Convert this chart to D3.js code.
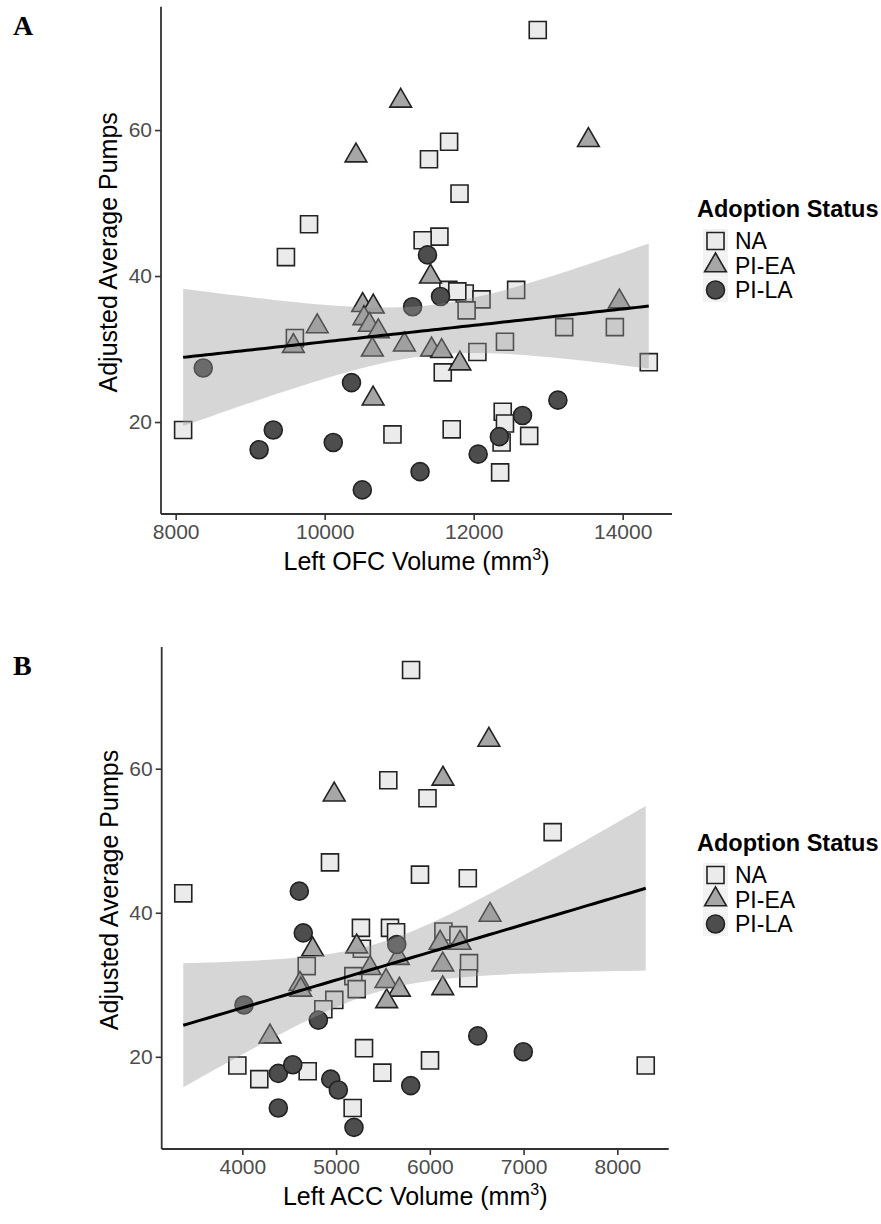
<!DOCTYPE html>
<html>
<head>
<meta charset="utf-8">
<script src="https://cdn.jsdelivr.net/npm/d3@7"></script>
<style>
  body { margin: 0; background: #fff; }
  text { font-family: "Liberation Sans", Arial, sans-serif; }
</style>
</head>
<body>
<div id="chart"></div>
<script>
// groups and their legend labels
const groups = ["NA", "PI-EA", "PI-LA"];

// Panel A: Left OFC volume vs adjusted average pumps
const ofcNA = [
	[12860, 73.7], [11670, 58.4], [11400, 56.0], [11810, 51.3], [9790, 47.1],
	[11540, 45.4], [11315, 44.9], [9480, 42.6], [11660, 38.1], [11880, 37.6],
	[11780, 37.9], [12105, 36.8], [11905, 35.3], [12570, 38.1], [13215, 33.0],
	[13895, 33.0], [14350, 28.2], [12420, 31.0], [12050, 29.6], [11585, 26.8],
	[9600, 31.5], [8100, 18.9], [10910, 18.3], [11705, 19.0], [12390, 21.4],
	[12420, 19.8], [12375, 17.2], [12745, 18.1], [12355, 13.1]
];
const ofcEA = [
	[11020, 64.0], [10420, 56.5], [13540, 58.6], [11420, 39.9], [13955, 36.5],
	[9580, 30.4], [9900, 33.1], [10510, 36.0], [10652, 35.8], [10527, 34.2],
	[10600, 33.3], [10720, 32.4], [10640, 29.9], [11070, 30.6], [10650, 23.2],
	[11435, 29.9], [11570, 29.7], [11815, 28.0]
];
const ofcLA = [
	[11380, 42.9], [11180, 35.8], [11555, 37.2], [8370, 27.4], [10360, 25.4],
	[9310, 18.9], [9120, 16.2], [10115, 17.2], [10505, 10.7], [11280, 13.2],
	[13130, 23.0], [12655, 20.9], [12345, 18.0], [12060, 15.6]
];

// Panel B: Left ACC volume vs adjusted average pumps
const accNA = [
	[5800, 73.7], [5557, 58.4], [4935, 47.0], [3370, 42.7], [5975, 55.9],
	[7310, 51.2], [5895, 45.3], [6405, 44.8], [5265, 37.9], [5575, 37.9],
	[5640, 37.3], [5275, 35.0], [4687, 32.6], [5184, 31.2], [5220, 29.4],
	[4981, 27.9], [4864, 26.6], [5298, 21.2], [3947, 18.8], [4181, 16.9],
	[4697, 18.0], [5493, 17.8], [5177, 12.9], [6145, 37.4], [6305, 36.9],
	[6418, 33.0], [6411, 30.9], [6002, 19.5], [8303, 18.8]
];
const accEA = [
	[4980, 56.4], [6630, 64.0], [6140, 58.6], [4750, 34.9], [5220, 35.3],
	[5362, 32.3], [5664, 33.7], [4615, 30.1], [4623, 29.3], [5533, 30.5],
	[5675, 29.3], [5540, 27.7], [4295, 22.8], [6642, 39.7], [6110, 35.8],
	[6322, 35.8], [6138, 32.8], [6138, 29.5]
];
const accLA = [
	[4608, 43.0], [4650, 37.2], [5647, 35.6], [4811, 25.1], [4018, 27.2],
	[4384, 17.7], [4538, 18.9], [4943, 16.9], [5024, 15.4], [5796, 16.0],
	[4384, 12.9], [5191, 10.2], [6511, 22.9], [6997, 20.7]
];

// tick labels
const ofcTicks = [8000, 10000, 12000, 14000];
const accTicks = [4000, 5000, 6000, 7000, 8000];
const pumpTicks = [20, 40, 60];

const W = 881, H = 1224;
const svg = d3.select("#chart").append("svg")
	.attr("width", W).attr("height", H);

const shapeOf = { "NA": d3.symbolSquare, "PI-EA": d3.symbolTriangle, "PI-LA": d3.symbolCircle };
const sizeOf = { "NA": 290, "PI-EA": 205, "PI-LA": 255 };
const fillOf = { "NA": "#ebebeb", "PI-EA": "#a6a6a6", "PI-LA": "#4d4d4d" };

// linear fit with 95% band (like geom_smooth(method = "lm"))
function lmBand(pts) {
	const n = pts.length;
	const mx = d3.mean(pts, d => d[0]), my = d3.mean(pts, d => d[1]);
	let sxx = 0, sxy = 0;
	pts.forEach(d => { sxx += (d[0] - mx) ** 2; sxy += (d[0] - mx) * (d[1] - my); });
	const b = sxy / sxx, a = my - b * mx;
	const rss = d3.sum(pts, d => (d[1] - a - b * d[0]) ** 2);
	const s = Math.sqrt(rss / (n - 2));
	const t = 2.0;
	const [x0, x1] = d3.extent(pts, d => d[0]);
	return d3.range(0, 81).map(i => {
		const x = x0 + (x1 - x0) * i / 80;
		const fit = a + b * x;
		const se = s * Math.sqrt(1 / n + (x - mx) ** 2 / sxx);
		return { x: x, fit: fit, lo: fit - t * se, hi: fit + t * se };
	});
}

function drawPanel(cfg) {
	const g = svg.append("g");
	const x = d3.scaleLinear().domain(cfg.xDomain).range([cfg.left, cfg.right]);
	const y = d3.scaleLinear().domain(cfg.yDomain).range([cfg.bottom, cfg.top]);

	const all = [];
	groups.forEach((grp, i) => cfg.series[i].forEach(d => all.push({ grp: grp, x: d[0], y: d[1] })));

	// points
	g.selectAll("path.pt").data(all).enter().append("path")
		.attr("class", "pt")
		.attr("transform", d => `translate(${x(d.x)},${y(d.y)})`)
		.attr("d", d => d3.symbol().type(shapeOf[d.grp]).size(sizeOf[d.grp])())
		.attr("fill", d => fillOf[d.grp])
		.attr("stroke", "#222")
		.attr("stroke-width", 1.6);

	// smooth: ribbon on top of the points, then the line
	const band = lmBand(all.map(d => [d.x, d.y]));
	g.append("path").datum(band)
		.attr("fill", "#999999").attr("fill-opacity", 0.4)
		.attr("d", d3.area().x(d => x(d.x)).y0(d => y(d.lo)).y1(d => y(d.hi)));
	g.append("path").datum(band)
		.attr("fill", "none").attr("stroke", "#000").attr("stroke-width", 3)
		.attr("d", d3.line().x(d => x(d.x)).y(d => y(d.fit)));

	// axes
	const xa = g.append("g").attr("transform", `translate(0,${cfg.bottom})`)
		.call(d3.axisBottom(x).tickValues(cfg.xTicks).tickSize(6).tickPadding(4).tickFormat(d3.format("d")));
	const ya = g.append("g").attr("transform", `translate(${cfg.left},0)`)
		.call(d3.axisLeft(y).tickValues(pumpTicks).tickSize(6).tickPadding(3));
	[xa, ya].forEach(a => {
		a.select(".domain").attr("stroke", "#333").attr("stroke-width", 1.8);
		a.selectAll(".tick line").attr("stroke", "#333").attr("stroke-width", 1.6);
		a.selectAll(".tick text").attr("fill", "#4d4d4d").style("font-size", "21px")
			.style("font-family", "'Liberation Sans', Arial, sans-serif");
	});
	// d3 domain path spans only the range; extend to corners
	xa.select(".domain").attr("d", `M${cfg.left},0H${cfg.right}`);
	ya.select(".domain").attr("d", `M0,${cfg.top}V${cfg.bottom}`);

	// axis titles
	const xt = g.append("text")
		.attr("x", (cfg.left + cfg.right) / 2).attr("y", cfg.bottom + 56)
		.attr("text-anchor", "middle").style("font-size", "25px").attr("fill", "#000");
	xt.append("tspan").text(cfg.xTitle + " (mm");
	xt.append("tspan").attr("dy", -10).style("font-size", "16px").text("3");
	xt.append("tspan").attr("dy", 10).text(")");

	g.append("text")
		.attr("transform", `translate(${cfg.left - 44},${(cfg.top + cfg.bottom) / 2 - 8}) rotate(-90)`)
		.attr("text-anchor", "middle").style("font-size", "25px").attr("fill", "#000")
		.text("Adjusted Average Pumps");

	// panel letter
	g.append("text").attr("x", 13).attr("y", cfg.top + 28)
		.style("font-family", "'Liberation Serif', 'Times New Roman', serif")
		.style("font-weight", "bold").style("font-size", "28px")
		.text(cfg.letter);

	// legend
	const lg = g.append("g").attr("transform", `translate(697,${cfg.legendTop})`);
	lg.append("text").attr("x", 0).attr("y", 0)
		.style("font-weight", "bold").style("font-size", "23.5px").text("Adoption Status");
	groups.forEach((grp, i) => {
		const cy = 24 + i * 24.5;
		lg.append("rect").attr("x", 6).attr("y", cy - 12).attr("width", 25).attr("height", 24)
			.attr("fill", "#f2f2f2");
		lg.append("path")
			.attr("transform", `translate(18.5,${cy})`)
			.attr("d", d3.symbol().type(shapeOf[grp]).size(sizeOf[grp])())
			.attr("fill", fillOf[grp]).attr("stroke", "#222").attr("stroke-width", 1.6);
		lg.append("text").attr("x", 38).attr("y", cy + 8)
			.style("font-size", "23px").attr("fill", "#000").text(grp);
	});
}

drawPanel({
	letter: "A", left: 161, right: 672, top: 6.7, bottom: 514,
	xDomain: [7803, 14662], yDomain: [7.4, 76.9],
	xTicks: ofcTicks, xTitle: "Left OFC Volume",
	series: [ofcNA, ofcEA, ofcLA], legendTop: 217
});
drawPanel({
	letter: "B", left: 161.7, right: 668.7, top: 647, bottom: 1149,
	xDomain: [3140, 8548], yDomain: [7.2, 76.9],
	xTicks: accTicks, xTitle: "Left ACC Volume",
	series: [accNA, accEA, accLA], legendTop: 851
});
</script>
</body>
</html>
